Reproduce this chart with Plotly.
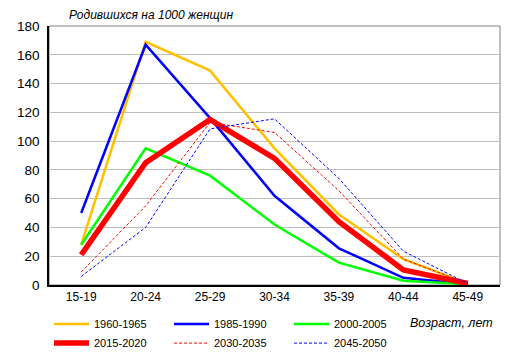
import plotly.graph_objects as go

ages = ["15-19", "20-24", "25-29", "30-34", "35-39", "40-44", "45-49"]
s1960 = [28, 169, 149, 95, 49, 18, 1]
s1985 = [50, 167, 116, 62, 25.5, 5, 0.5]
s2000 = [28, 95, 76, 42, 15.5, 3, 0.5]
s2015 = [21, 85, 115, 88, 44, 10.5, 1]
s2030 = [9, 55, 113, 106, 65.5, 18, 1]
s2045 = [6, 40, 108.5, 115.5, 74, 23.5, 1]
y_ticks = [0, 20, 40, 60, 80, 100, 120, 140, 160, 180]

series = [
    ("1960-1965", s1960, "#FFC000", 2.5, "solid"),
    ("1985-1990", s1985, "#0000FF", 2.5, "solid"),
    ("2000-2005", s2000, "#00FF00", 2.5, "solid"),
    ("2015-2020", s2015, "#FF0000", 5.5, "solid"),
    ("2030-2035", s2030, "#FF0000", 1, "3px,2px"),
    ("2045-2050", s2045, "#0000FF", 1, "3px,2px"),
]

fig = go.Figure()
for name, vals, color, w, dash in series:
    fig.add_trace(go.Scatter(x=ages, y=vals, name=name, mode="lines",
                             line=dict(color=color, width=w, dash=dash)))

fig.update_layout(
    width=506, height=348,
    margin=dict(l=41, r=14, t=18, b=71, autoexpand=False),
    paper_bgcolor="white", plot_bgcolor="white",
    font=dict(family="Liberation Sans, Arial, sans-serif", size=12, color="black"),
    showlegend=True,
    legend=dict(orientation="h", x=0.0, xanchor="left", y=-0.095, yanchor="top",
                entrywidth=70, entrywidthmode="pixels", tracegroupgap=0,
                font=dict(size=11), itemwidth=35, bgcolor="rgba(0,0,0,0)"),
    xaxis=dict(type="category", showgrid=False, showline=True, linecolor="black",
               linewidth=1.5, ticks="", mirror=False, range=[-0.5, 6.5],
               tickfont=dict(size=12)),
    yaxis=dict(range=[0, 180], tickvals=y_ticks, showgrid=True, gridcolor="#BFBFBF",
               gridwidth=1, showline=True, linecolor="black", linewidth=1.5,
               ticks="", zeroline=False, tickfont=dict(size=13.5),
               ticklabelstandoff=5),
    shapes=[dict(type="rect", xref="paper", yref="paper", x0=0, x1=1, y0=0, y1=1,
                 line=dict(color="#808080", width=1), layer="below")],
    annotations=[
        dict(text="<i>Родившихся на 1000 женщин</i>", xref="paper", yref="paper",
             x=(67 - 49) / 451, y=1.0, xanchor="left", yanchor="bottom", yshift=2,
             showarrow=False, font=dict(size=12)),
        dict(text="<i>Возраст, лет</i>", xref="paper", yref="paper",
             x=(408 - 49) / 451, y=-0.147, xanchor="left", yanchor="middle",
             showarrow=False, font=dict(size=12.5)),
    ],
)

fig.write_html("out.html")
